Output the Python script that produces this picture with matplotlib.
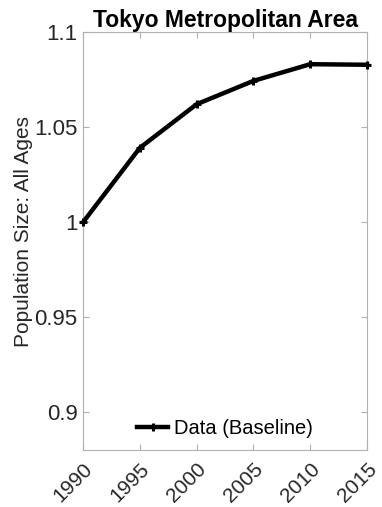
import numpy as np
import matplotlib
matplotlib.use("Agg")
import matplotlib.pyplot as plt

years = [1990, 1995, 2000, 2005, 2010, 2015]
population = [1.0, 1.0392, 1.0622, 1.0745, 1.0833, 1.0830]
yticks = [0.9, 0.95, 1.0, 1.05, 1.1]
ytick_labels = ["0.9", "0.95", "1", "1.05", "1.1"]

plt.rcParams["font.family"] = ["Liberation Sans", "DejaVu Sans"]

fig = plt.figure(figsize=(3.82, 5.07), dpi=100)
ax = fig.add_axes([0.2173, 0.1124, 0.7435, 0.8235])

ax.plot(years, population, color="black", lw=3.2, marker="+", ms=6, mew=2.2,
        label="Data (Baseline)", clip_on=False, zorder=3)

ax.set_xlim(1990, 2015)
ax.set_ylim(0.88, 1.1)
ax.set_xticks(years)
ax.set_xticklabels([str(y) for y in years], rotation=45, ha="right",
                   rotation_mode="anchor")
ax.set_yticks(yticks)
ax.set_yticklabels(ytick_labels)

for s in ax.spines.values():
    s.set_color("#b0b0b0")
    s.set_linewidth(0.8)
ax.tick_params(direction="in", length=4, width=0.8, color="#b0b0b0",
               labelcolor="#262626", labelsize=15, top=True, right=True,
               pad=4)
ax.tick_params(axis="x", pad=7)
for lab in ax.get_yticklabels():
    lab.set_fontsize(16)

ax.set_ylabel("Population Size: All Ages", fontsize=15, color="#262626",
              labelpad=4)
ax.yaxis.set_label_coords(-0.175, 0.524)
ax.set_title("Tokyo Metropolitan Area", fontsize=16.5, fontweight="bold",
             pad=4)

ax.legend(loc="lower center", frameon=False, fontsize=14.5, handlelength=1.5,
          handletextpad=0.3, borderaxespad=0.2)

fig.savefig("out.png", dpi=100)
